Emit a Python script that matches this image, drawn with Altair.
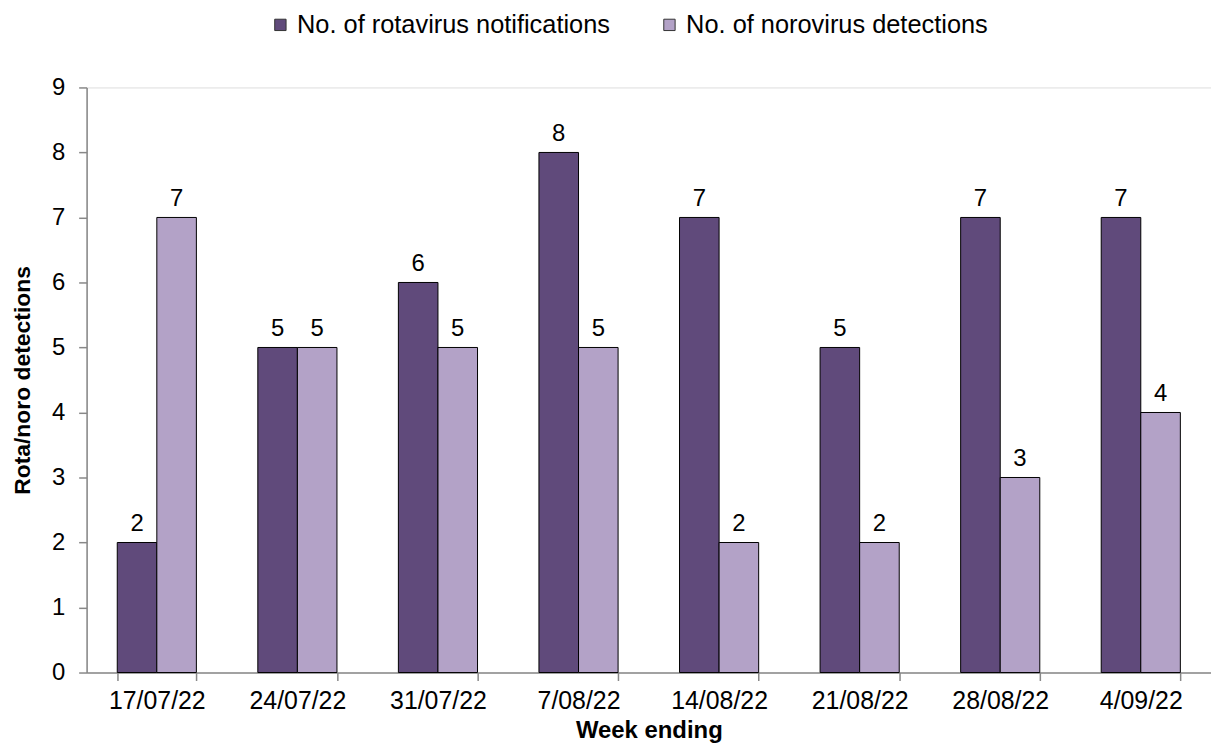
import altair as alt
import pandas as pd

weeks = ["17/07/22", "24/07/22", "31/07/22", "7/08/22", "14/08/22", "21/08/22", "28/08/22", "4/09/22"]
rota = [2, 5, 6, 8, 7, 5, 7, 7]
noro = [7, 5, 5, 5, 2, 2, 3, 4]
series = ["No. of rotavirus notifications", "No. of norovirus detections"]
colors = ["#604A7B", "#B3A2C7"]

rows = []
for w, r, n in zip(weeks, rota, noro):
    rows.append({"week": w, "series": series[0], "value": r})
    rows.append({"week": w, "series": series[1], "value": n})
df = pd.DataFrame(rows)

FONT = "Liberation Sans"

x = alt.X("week:N", sort=weeks, title="Week ending",
          scale=alt.Scale(paddingInner=0.437, paddingOuter=0.218),
          axis=alt.Axis(labelAngle=0, labelFontSize=25, labelColor="black", labelFont=FONT,
                        titleFontSize=24, titleFont=FONT, titleFontWeight="bold", titleColor="black",
                        domainColor="#888888", tickColor="#888888", tickSize=8, tickBand="extent",
                        labelPadding=8, titlePadding=5, domainWidth=1.5, tickWidth=1.5))
xo = alt.XOffset("series:N", sort=series, scale=alt.Scale(paddingInner=0, paddingOuter=0))
y = alt.Y("value:Q", title="Rota/noro detections",
          scale=alt.Scale(domain=[0, 9], nice=False),
          axis=alt.Axis(values=list(range(10)), grid=False, labelFontSize=24, labelColor="black",
                        labelFont=FONT, titleFontSize=23, titleFont=FONT, titleFontWeight="bold",
                        titleColor="black", domainColor="#888888", tickColor="#888888", tickSize=8,
                        labelPadding=14, titlePadding=17, domainWidth=1.5, tickWidth=1.5))
color = alt.Color("series:N", sort=series, title=None,
                  scale=alt.Scale(domain=series, range=colors),
                  legend=alt.Legend(orient="none", legendX=182, legendY=-76, direction="horizontal",
                                    symbolType="square", symbolSize=130, symbolStrokeColor="#333333",
                                    symbolStrokeWidth=1, labelFontSize=25.5, labelFont=FONT,
                                    labelColor="black", labelOffset=4, columnPadding=46,
                                    labelLimit=500))

base = alt.Chart(df).encode(x=x, xOffset=xo, y=y)

bars = base.mark_bar(stroke="black", strokeWidth=1).encode(color=color)
labels = base.mark_text(dy=-12, baseline="alphabetic", fontSize=24, font=FONT, color="black").encode(
    text=alt.Text("value:Q"))

chart = (bars + labels).properties(
    width=1130, height=588,
    autosize=alt.AutoSizeParams(type="none"),
    padding={"left": 79, "top": 78, "right": 0, "bottom": 72},
).configure_view(stroke=None).configure(background="white")

chart.save("out.html", embed_options={"renderer": "svg", "actions": False})
